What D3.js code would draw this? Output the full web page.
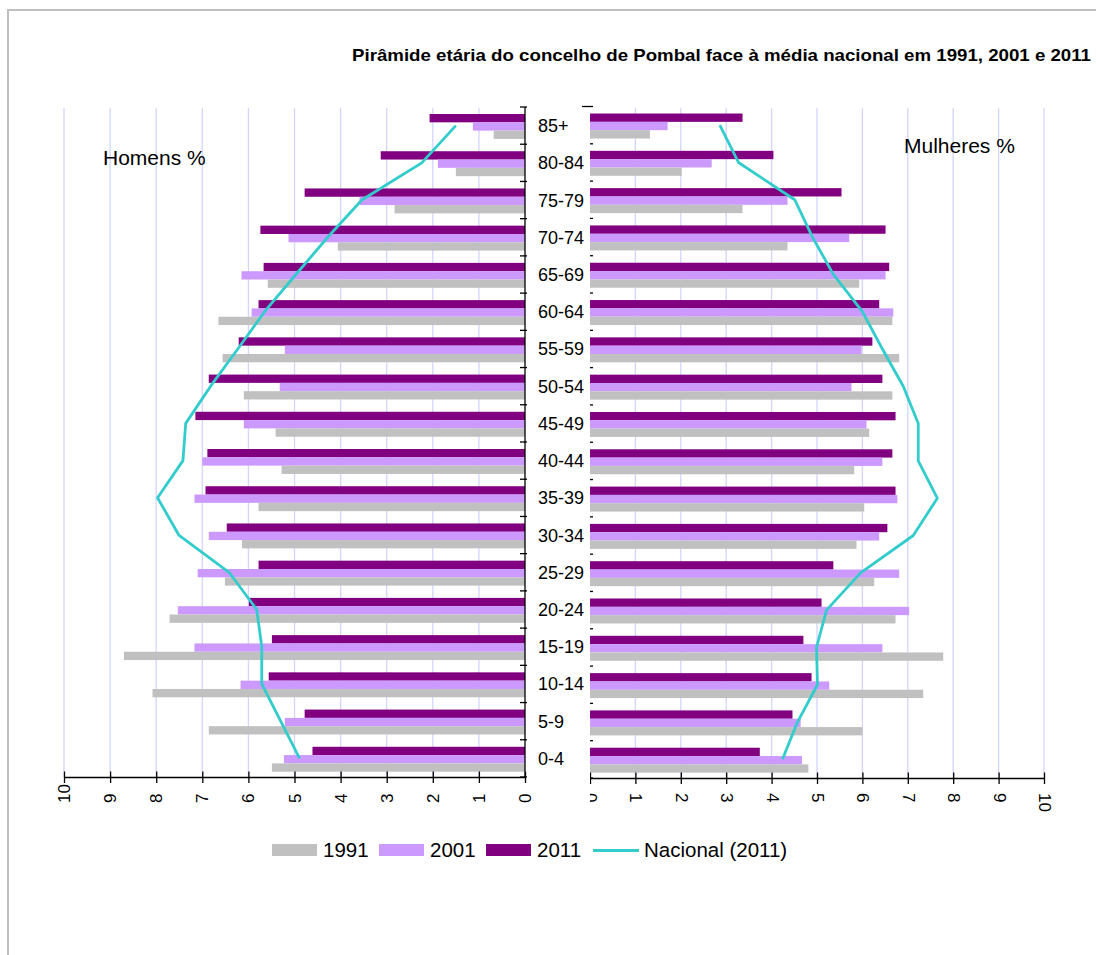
<!DOCTYPE html>
<html>
<head>
<meta charset="utf-8">
<script src="https://cdn.jsdelivr.net/npm/d3@7"></script>
<style>
  html, body { margin: 0; padding: 0; background: #fff; }
  svg { display: block; font-family: "Liberation Sans", Arial, sans-serif; }
</style>
</head>
<body>
<svg id="chart" width="1096" height="955"></svg>
<script>
// Age groups, from the oldest (top) to the youngest (bottom)
const categories = ["85+", "80-84", "75-79", "70-74", "65-69", "60-64", "55-59", "50-54", "45-49",
                    "40-44", "35-39", "30-34", "25-29", "20-24", "15-19", "10-14", "5-9", "0-4"];
const years = ["2011", "2001", "1991"];

// Men (%) per age group
const homens1991 = [0.68, 1.50, 2.83, 4.06, 5.58, 6.65, 6.56, 6.10, 5.41, 5.28, 5.78, 6.14, 6.51, 7.71, 8.70, 8.08, 6.86, 5.49];
const homens2001 = [1.13, 1.89, 3.59, 5.13, 6.15, 5.93, 5.21, 5.32, 6.10, 7.00, 7.17, 6.86, 7.10, 7.53, 7.17, 6.17, 5.21, 5.23];
const homens2011 = [2.07, 3.13, 4.78, 5.74, 5.67, 5.78, 6.21, 6.86, 7.15, 6.89, 6.93, 6.47, 5.78, 5.99, 5.49, 5.56, 4.78, 4.61];
const homensNacional = [1.50, 2.24, 3.54, 4.28, 4.97, 5.65, 6.23, 6.82, 7.36, 7.42, 7.97, 7.51, 6.42, 5.82, 5.71, 5.71, 5.30, 4.89];

// Women (%) per age group
const mulheres1991 = [1.32, 2.02, 3.36, 4.35, 5.93, 6.66, 6.81, 6.66, 6.15, 5.82, 6.04, 5.87, 6.26, 6.73, 7.78, 7.34, 6.00, 4.81];
const mulheres2001 = [1.71, 2.68, 4.35, 5.71, 6.51, 6.68, 5.98, 5.76, 6.09, 6.44, 6.77, 6.37, 6.81, 7.03, 6.44, 5.27, 4.64, 4.67];
const mulheres2011 = [3.36, 4.04, 5.54, 6.51, 6.59, 6.37, 6.22, 6.44, 6.73, 6.66, 6.73, 6.55, 5.36, 5.10, 4.70, 4.88, 4.46, 3.74];
const mulheresNacional = [2.86, 3.27, 4.51, 4.90, 5.36, 6.00, 6.44, 6.90, 7.23, 7.23, 7.65, 7.12, 5.96, 5.21, 4.99, 5.01, 4.57, 4.24];

const xTicks = [0, 1, 2, 3, 4, 5, 6, 7, 8, 9, 10];

const colors = { "1991": "#c0c0c0", "2001": "#cc99ff", "2011": "#800080", nacional: "#33cccc" };
const gridColor = "#d4d4ff";

const svg = d3.select("#chart");

// outer frame
svg.append("rect").attr("x", 8).attr("y", 10).attr("width", 1200).attr("height", 1100)
  .attr("fill", "#fff").attr("stroke", "#bfbfbf").attr("stroke-width", 2);

// title, condensed to its box width
svg.append("text")
  .attr("x", 352).attr("y", 61)
  .attr("textLength", 739).attr("lengthAdjust", "spacingAndGlyphs")
  .style("font-family", "'Liberation Sans', Arial, sans-serif")
  .style("font-weight", "bold")
  .style("font-size", "16.5px")
  .attr("fill", "#000")
  .text("Pirâmide etária do concelho de Pombal face à média nacional em 1991, 2001 e 2011");

function drawPanel(opts) {
  const g = svg.append("g");
  const x = d3.scaleLinear().domain([0, 10]).range(opts.xRange);
  const ySlot = d3.scaleBand().domain(categories).range(opts.yRange).padding(0);
  const bw = ySlot.bandwidth();
  const yYear = d3.scaleBand().domain(years).range([0, bw]).paddingInner(0).paddingOuter(0.74).align(0.57);
  const axisY = opts.yRange[1];

  if (opts.cover) {
    g.append("rect").attr("x", 20).attr("y", 108).attr("width", 570).attr("height", 712).attr("fill", "#fff");
  }

  // vertical gridlines
  g.append("g").selectAll("line").data(xTicks.filter(d => d > 0)).join("line")
    .attr("x1", d => x(d)).attr("x2", d => x(d))
    .attr("y1", 108).attr("y2", axisY)
    .attr("stroke", gridColor).attr("stroke-width", 1.3);

  // bars
  const series = [
    { year: "2011", values: opts.v2011 },
    { year: "2001", values: opts.v2001 },
    { year: "1991", values: opts.v1991 }
  ];
  series.forEach(s => {
    g.append("g").selectAll("rect").data(categories).join("rect")
      .attr("x", (c, i) => Math.min(x(0), x(s.values[i])))
      .attr("width", (c, i) => Math.abs(x(s.values[i]) - x(0)))
      .attr("y", c => ySlot(c) + yYear(s.year))
      .attr("height", yYear.bandwidth())
      .attr("fill", colors[s.year]);
  });

  // bottom value axis with crossing ticks and rotated labels
  const ax = g.append("g").attr("transform", `translate(0,${axisY})`)
    .call(d3.axisBottom(x).tickValues(xTicks).tickFormat(d3.format("d")).tickSizeOuter(0));
  ax.select(".domain").attr("stroke", "#000").attr("stroke-width", 1.3);
  ax.selectAll(".tick line").attr("y1", -5.5).attr("y2", 6).attr("stroke", "#000").attr("stroke-width", 1.3);
  ax.selectAll(".tick text")
    .attr("y", 0).attr("dy", null)
    .style("font-size", "17px").style("font-family", "'Liberation Sans', Arial, sans-serif").attr("fill", "#000")
    .attr("text-anchor", "start")
    .attr("dominant-baseline", "central")
    .attr("transform", opts.labelRotate === -90 ? "translate(0,26) rotate(-90)" : "translate(0,15) rotate(90)");

  // category axis ticks at group boundaries
  const bounds = categories.map(c => ySlot(c)).concat([opts.yRange[1]]);
  g.append("g").selectAll("line").data(bounds).join("line")
    .attr("x1", opts.catTick[0]).attr("x2", opts.catTick[1])
    .attr("y1", d => d).attr("y2", d => d)
    .attr("stroke", "#000").attr("stroke-width", 1.3);
  if (opts.catAxisLine) {
    g.append("line").attr("x1", x(0)).attr("x2", x(0))
      .attr("y1", opts.yRange[0]).attr("y2", opts.yRange[1])
      .attr("stroke", "#000").attr("stroke-width", 1.3);
  }

  // national profile line
  const line = d3.line().x(d => x(d.v)).y(d => ySlot(d.c) + bw / 2);
  g.append("path")
    .datum(categories.map((c, i) => ({ c, v: opts.nacional[i] })))
    .attr("d", line).attr("fill", "none")
    .attr("stroke", colors.nacional).attr("stroke-width", 2.8).attr("stroke-linejoin", "round");

  if (opts.catLabels) {
    g.append("g").selectAll("text").data(categories).join("text")
      .attr("x", 538).attr("y", c => ySlot(c) + bw / 2).attr("dy", "0.36em")
      .style("font-size", "18px").attr("fill", "#000")
      .text(c => c);
  }

  g.append("text").attr("x", opts.label[0]).attr("y", opts.label[1])
    .style("font-size", "21px").attr("fill", "#000").text(opts.label[2]);
}

// Women (right side) — drawn first, its inner edge sits under the men's panel
drawPanel({
  xRange: [590, 1044], yRange: [106.5, 778],
  v1991: mulheres1991, v2001: mulheres2001, v2011: mulheres2011, nacional: mulheresNacional,
  labelRotate: 90, catTick: [582, 593], catAxisLine: false, catLabels: false,
  label: [904, 153, "Mulheres %"]
});

// Men (left side)
drawPanel({
  xRange: [525, 64], yRange: [107, 777],
  v1991: homens1991, v2001: homens2001, v2011: homens2011, nacional: homensNacional,
  labelRotate: -90, catTick: [520, 527], catAxisLine: true, catLabels: true, cover: true,
  label: [103, 165, "Homens %"]
});

// legend
const legend = svg.append("g");
const legendItems = [
  { key: "1991", label: "1991", x: 272, type: "rect" },
  { key: "2001", label: "2001", x: 379, type: "rect" },
  { key: "2011", label: "2011", x: 486, type: "rect" },
  { key: "nacional", label: "Nacional (2011)", x: 593, type: "line" }
];
legendItems.forEach(it => {
  if (it.type === "rect") {
    legend.append("rect").attr("x", it.x).attr("y", 844).attr("width", 45).attr("height", 12).attr("fill", colors[it.key]);
  } else {
    legend.append("line").attr("x1", it.x).attr("x2", it.x + 46).attr("y1", 850.5).attr("y2", 850.5)
      .attr("stroke", colors[it.key]).attr("stroke-width", 3);
  }
  legend.append("text").attr("x", it.x + 51).attr("y", 857)
    .style("font-size", "20.5px").attr("fill", "#000").text(it.label);
});
</script>
</body>
</html>
